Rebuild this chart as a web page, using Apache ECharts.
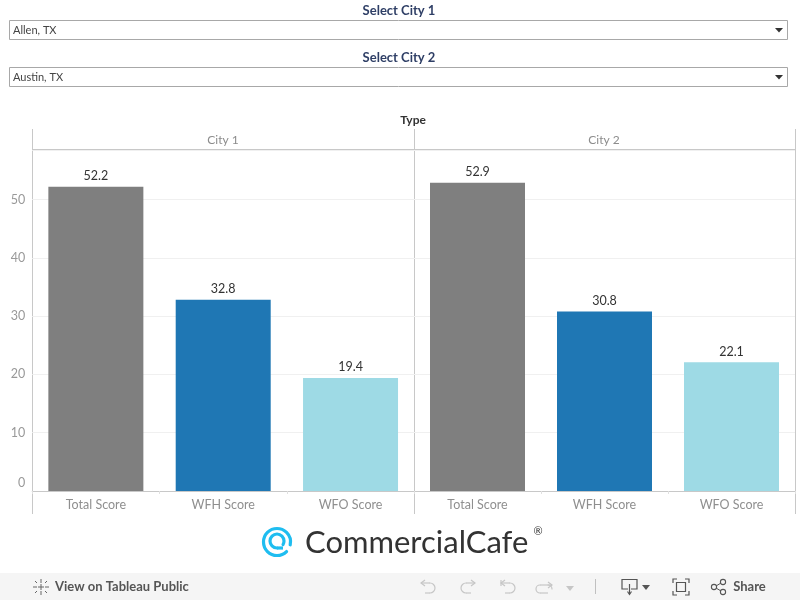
<!DOCTYPE html>
<html><head><meta charset="utf-8">
<style>html,body{margin:0;padding:0;background:#fff}#c{width:800px;height:600px}</style>
<script src="https://cdn.jsdelivr.net/npm/echarts@6/dist/echarts.min.js"></script>
</head><body><div id="c"></div>
<script>
const categories = ['Total Score','WFH Score','WFO Score'];
const city1Values = [52.2,32.8,19.4];
const city2Values = [52.9,30.8,22.1];
const barColors = ['#7f7f7f','#1f77b4','#9edae5'];
const panelTitles = ['City 1','City 2'];
const selectors = [['Select City 1','Allen, TX'],['Select City 2','Austin, TX']];
const FONT = 'Lato';
const chart = echarts.init(document.getElementById('c'),null,{renderer:'canvas'});
const line='#c8c8c8';
const g=[];
function T(x,y,text,size,fill,weight,align,family){g.push({type:'text',x,y,style:{text,fontSize:size,fill,fontWeight:weight||'normal',align:align||'center',verticalAlign:'middle',fontFamily:family||FONT}});}
function L(x1,y1,x2,y2,c,w){g.push({type:'line',shape:{x1,y1,x2,y2},style:{stroke:c||line,lineWidth:w||1}});}
function PL(points,c,w){g.push({type:'polyline',shape:{points},style:{stroke:c,lineWidth:w||1.2,fill:'none'}});}
function A(cx,cy,r,a,b,c,w){g.push({type:'arc',shape:{cx,cy,r,startAngle:a*Math.PI/180,endAngle:b*Math.PI/180,clockwise:true},style:{stroke:c,lineWidth:w||1.2,fill:'none',lineCap:'round'}});}
selectors.forEach((s,i)=>{
  const y=47*i;
  T(399,10.5+y,s[0],13,'#2f3f66','bold');
  g.push({type:'rect',shape:{x:9.5,y:20.5+y,width:778,height:19},style:{fill:'#fff',stroke:'#a8a8a8',lineWidth:1}});
  T(13,30.5+y,s[1],11,'#444','normal','left');
  g.push({type:'polygon',shape:{points:[[775,28+y],[783,28+y],[779,32.5+y]]},style:{fill:'#333'}});
});
T(413,120,'Type',12,'#333','bold');
L(32.5,129,32.5,514);L(414.5,129,414.5,514);L(795.5,129,795.5,514);
L(32,149.5,796,149.5);L(777,491.5,796,491.5);
T(223,140,panelTitles[0],12,'#8c8c8c');
T(604,140,panelTitles[1],12,'#8c8c8c');
// logo
A(277,542,13.5,45,372,'#1fbdf0',3.2);
A(277,541,7,90,390,'#1fbdf0',3.2);
L(277,548,283,548,'#1fbdf0',3.2);
T(305,543,'CommercialCafe',31,'#333','normal','left','Lato');
T(538,531,'®',11,'#333','normal','center');
// toolbar
g.push({type:'rect',shape:{x:0,y:573,width:800,height:27},style:{fill:'#f5f5f5'}});
T(55,587,'View on Tableau Public',13,'#555','bold','left');
T(749.5,587,'Share',13,'#555','bold','center');
[[41,579,41,583],[41,591,41,595],[33,587,37,587],[45,587,49,587],[41,584,41,590],[38,587,44,587],[35,581,37,583],[45,591,47,593],[47,581,45,583],[37,591,35,593]].forEach(a=>L(a[0],a[1],a[2],a[3],'#666',1));
const ic='#c6c6c6';
PL([[425,580],[421,583],[425,586]],ic);PL([[421,583],[430,583]],ic);A(430,588,5,-90,90,ic);PL([[430,593],[425,593]],ic);
PL([[471,580],[475,583],[471,586]],ic);PL([[475,583],[466,583]],ic);A(466,588,5,90,270,ic);PL([[466,593],[471,593]],ic);
PL([[501,580],[501,586]],ic);PL([[505,580],[501,583],[505,586]],ic);PL([[501,583],[510,583]],ic);A(510,588,5,-90,90,ic);PL([[510,593],[505,593]],ic);
PL([[548,582],[552,585],[548,588]],ic);PL([[552,585],[540,585]],ic);A(540,589,4,90,270,ic);PL([[540,593],[548,593]],ic);A(548,589,4,-90,0,ic);
g.push({type:'polygon',shape:{points:[[566,586],[574,586],[570,591]]},style:{fill:ic}});
L(595.5,579,595.5,594,'#c0c0c0');
PL([[628,589],[622,589],[622,579.5],[637,579.5],[637,589],[631,589]],'#555');PL([[629.5,584],[629.5,594]],'#555');PL([[627.5,591.5],[629.5,594.5],[631.5,591.5]],'#555');
g.push({type:'polygon',shape:{points:[[642,585],[650,585],[646,590]]},style:{fill:'#555'}});
PL([[673,583],[673,579],[677,579]],'#555');PL([[685,579],[689,579],[689,583]],'#555');PL([[689,591],[689,595],[685,595]],'#555');PL([[677,595],[673,595],[673,591]],'#555');
g.push({type:'rect',shape:{x:676.5,y:582.5,width:9,height:9},style:{fill:'none',stroke:'#555',lineWidth:1.2}});
L(716,586,721,583,'#555');L(716,588,721,591,'#555');
[[714,587],[723,582],[723,592]].forEach(p=>g.push({type:'circle',shape:{cx:p[0],cy:p[1],r:2.6},style:{fill:'#f5f5f5',stroke:'#555',lineWidth:1.1}}));

const yAxisBase={type:'value',min:0,max:58.5,interval:10,axisLine:{show:false},axisTick:{show:false},splitLine:{show:true,lineStyle:{color:'#f0f0f0'}}};
const xAxisBase={type:'category',data:categories,axisLine:{lineStyle:{color:line}},axisTick:{show:true,length:3,lineStyle:{color:'#e0e0e0'}},
 axisLabel:{color:'#8f8f8f',fontSize:12.5,fontFamily:FONT,margin:7}};
function series(i,vals){return {type:'bar',xAxisIndex:i,yAxisIndex:i,barWidth:95,silent:true,
 data:vals.map((v,k)=>({value:v,itemStyle:{color:barColors[k]}})),
 label:{show:true,position:'top',distance:4,color:'#333',fontSize:12.5,fontFamily:FONT,formatter:p=>p.value.toFixed(1)}};}
chart.setOption({
 animation:false,backgroundColor:'#fff',
 grid:[{left:32.2,top:150,width:382,height:341,outerBoundsMode:'none'},{left:414,top:150,width:381,height:341,outerBoundsMode:'none'}],
 xAxis:[Object.assign({gridIndex:0},xAxisBase),Object.assign({gridIndex:1},xAxisBase)],
 yAxis:[Object.assign({gridIndex:0},yAxisBase,{axisLabel:{color:'#999',fontSize:12.5,fontFamily:FONT,margin:7,showMaxLabel:false,verticalAlignMinLabel:'bottom',
    formatter:v=>v===0?'{z|0}':String(v),rich:{z:{color:'#999',fontSize:12.5,fontFamily:FONT,padding:[0,0,2,0]}}}}),
        Object.assign({gridIndex:1},yAxisBase,{axisLabel:{show:false}})],
 series:[series(0,city1Values),series(1,city2Values)],
 graphic:{elements:g}
});
</script></body></html>
